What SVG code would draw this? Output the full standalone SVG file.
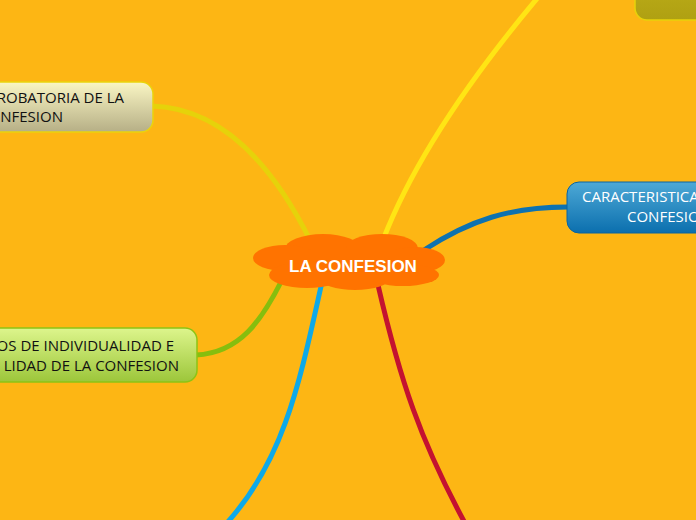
<svg xmlns="http://www.w3.org/2000/svg" width="696" height="520" viewBox="0 0 696 520">
<defs>
<linearGradient id="gCream" x1="0" y1="0" x2="0" y2="1"><stop offset="0" stop-color="#FAF6C4"/><stop offset="1" stop-color="#B6AF86"/></linearGradient>
<linearGradient id="gGreen" x1="0" y1="0" x2="0" y2="1"><stop offset="0" stop-color="#DDF58C"/><stop offset="1" stop-color="#9CC63A"/></linearGradient>
<linearGradient id="gBlue" x1="0" y1="0" x2="0" y2="1"><stop offset="0" stop-color="#4EA9D6"/><stop offset="1" stop-color="#0B6FAE"/></linearGradient>
<linearGradient id="gOlive" x1="0" y1="0" x2="0" y2="1"><stop offset="0" stop-color="#BFB01A"/><stop offset="1" stop-color="#AFA012"/></linearGradient>
<style>
.c{fill:none;stroke-width:5;stroke-linecap:round}
.t{font-family:"Open Sans","Noto Sans",sans-serif;font-size:15px;font-weight:500}
</style>
</defs>
<rect width="696" height="520" fill="#FDB614"/>
<g id="connectors">
<path class="c" stroke="#FFE514" d="M383 240 C410 170 460 90 540 -5"/>
<path class="c" stroke="#E6D20A" d="M310 240 C275 170 225 108 152 106"/>
<path class="c" stroke="#0E72B0" d="M424 250 C470 220 510 207 568 207"/>
<path class="c" stroke="#86BE0E" d="M282 280 C262 320 240 353 196 355"/>
<path class="c" stroke="#0EA9E8" d="M322 282 C300 380 285 460 225 525"/>
<path class="c" stroke="#C41230" d="M378 285 C400 380 420 440 466 525"/>
</g>
<g id="node-top-right">
<rect x="635" y="-30" width="90" height="50" rx="12" fill="url(#gOlive)" stroke="#E8D20A" stroke-width="1.5"/>
</g>
<g id="node-probatoria">
<rect x="-60" y="82" width="213" height="50" rx="12" fill="url(#gCream)" stroke="#EAD40C" stroke-width="1.5"/>
<text class="t" x="124" y="103" text-anchor="end" fill="#111">PROBATORIA DE LA</text>
<text class="t" x="63" y="122" text-anchor="end" fill="#111">CONFESION</text>
</g>
<g id="node-individualidad">
<rect x="-60" y="328" width="257" height="54" rx="12" fill="url(#gGreen)" stroke="#8CC414" stroke-width="1.5"/>
<text class="t" x="174" y="351" text-anchor="end" fill="#111">OS DE INDIVIDUALIDAD E</text>
<text class="t" x="179" y="371" text-anchor="end" fill="#111">LIDAD DE LA CONFESION</text>
</g>
<g id="node-caracteristicas">
<rect x="567" y="182" width="180" height="51" rx="12" fill="url(#gBlue)" stroke="#0A64A0" stroke-width="1"/>
<text class="t" x="582" y="202" fill="#fff">CARACTERISTICAS DE LA</text>
<text class="t" x="627" y="222" fill="#fff">CONFESION</text>
</g>
<g id="node-center">
<g fill="#FF7300">
<ellipse cx="323" cy="249" rx="38" ry="15"/>
<ellipse cx="382" cy="248" rx="36" ry="14"/>
<ellipse cx="285" cy="258" rx="32" ry="13"/>
<ellipse cx="415" cy="260" rx="30" ry="13"/>
<ellipse cx="307" cy="275" rx="38" ry="13"/>
<ellipse cx="355" cy="278" rx="35" ry="12"/>
<ellipse cx="403" cy="275" rx="36" ry="11"/>
<rect x="285" y="250" width="130" height="28"/>
</g>
<text x="353" y="272" text-anchor="middle" fill="#fff" font-family="'Liberation Sans',Arial,sans-serif" font-weight="bold" font-size="17">LA CONFESION</text>
</g>
</svg>
